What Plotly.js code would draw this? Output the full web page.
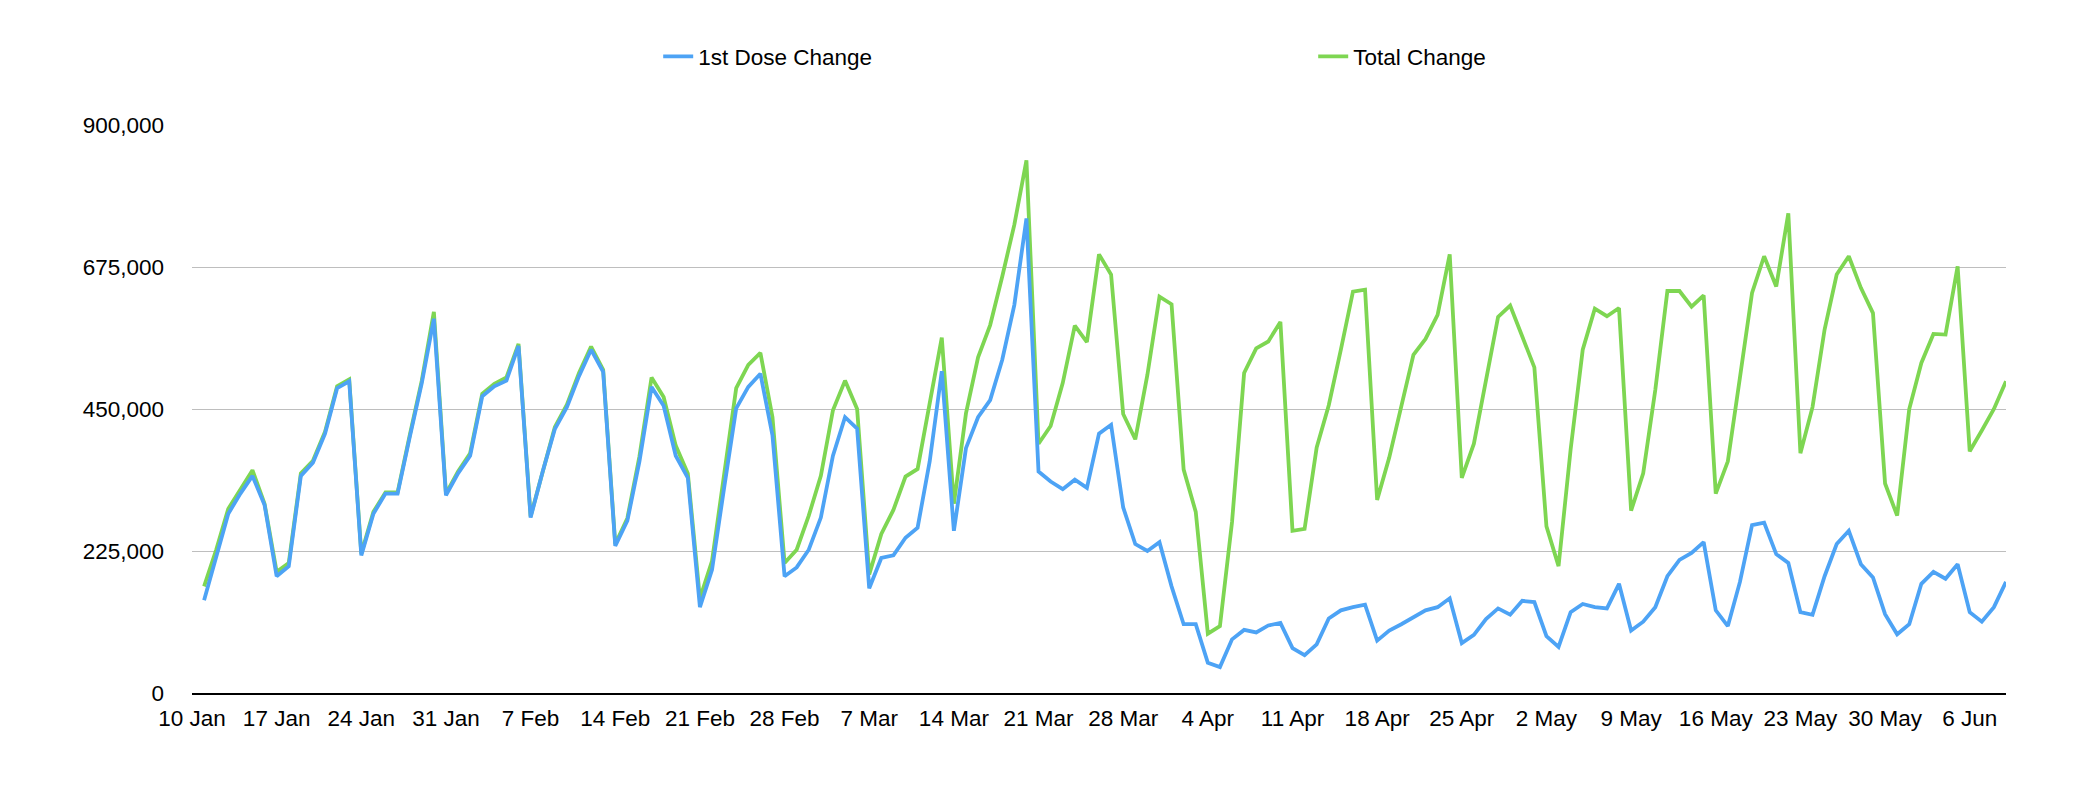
<!DOCTYPE html>
<html>
<head>
<meta charset="utf-8">
<script src="https://cdn.plot.ly/plotly-3.0.1.min.js"></script>
<style>
  html, body { margin: 0; padding: 0; background: #fff; }
  #vaccine_change_chart { width: 2073px; height: 794px; }
</style>
</head>
<body>
<div id="vaccine_change_chart"></div>
<script>
// daily change, 11 Jan 2021 to 9 Jun 2021
var START_DATE = '2021-01-11';

var first_dose_change = [
    147000, 214000, 284000, 316000, 344000, 298000, 185000, 201000, 344000, 365000,
    411000, 483000, 494000, 218000, 284000, 316000, 316000, 405000, 491000, 593000,
    313000, 348000, 376000, 470000, 486000, 495000, 550000, 278000, 351000, 418000,
    453000, 502000, 544000, 509000, 233000, 273000, 367000, 485000, 455000, 376000,
    341000, 136000, 195000, 325000, 451000, 485000, 506000, 408000, 185000, 199000,
    227000, 278000, 376000, 437000, 419000, 166000, 214000, 218000, 246000, 262000,
    367000, 510000, 257000, 388000, 437000, 464000, 528000, 615000, 752000, 351000,
    335000, 323000, 338000, 325000, 411000, 425000, 294000, 236000, 225000, 239000,
    169000, 109000, 109000, 48000, 41000, 85000, 100000, 96000, 107000, 111000,
    71000, 60000, 77000, 118000, 131000, 136000, 140000, 83000, 99000, 109000,
    120000, 131000, 136000, 150000, 79000, 92000, 117000, 134000, 124000, 146000,
    144000, 90000, 73000, 128000, 141000, 136000, 134000, 173000, 99000, 113000,
    136000, 185000, 211000, 222000, 239000, 131000, 106000, 176000, 266000, 270000,
    220000, 206000, 128000, 124000, 185000, 236000, 257000, 204000, 183000, 125000,
    93000, 109000, 173000, 192000, 181000, 204000, 128000, 113000, 136000, 176000
];

var total_change = [
    169000, 227000, 292000, 322000, 353000, 300000, 192000, 206000, 348000, 368000,
    414000, 486000, 497000, 221000, 287000, 318000, 318000, 408000, 495000, 604000,
    316000, 351000, 380000, 474000, 490000, 500000, 553000, 280000, 353000, 421000,
    457000, 507000, 549000, 512000, 236000, 277000, 375000, 500000, 469000, 392000,
    348000, 150000, 209000, 348000, 483000, 520000, 539000, 437000, 206000, 227000,
    281000, 344000, 448000, 495000, 450000, 188000, 252000, 290000, 343000, 355000,
    456000, 563000, 300000, 443000, 532000, 583000, 660000, 742000, 844000, 395000,
    423000, 491000, 582000, 556000, 695000, 663000, 442000, 402000, 504000, 628000,
    616000, 354000, 287000, 94000, 106000, 271000, 507000, 546000, 557000, 588000,
    257000, 260000, 389000, 456000, 544000, 636000, 639000, 306000, 373000, 455000,
    536000, 561000, 599000, 695000, 341000, 395000, 494000, 596000, 614000, 565000,
    516000, 264000, 201000, 386000, 544000, 609000, 597000, 610000, 289000, 348000,
    480000, 637000, 637000, 612000, 630000, 316000, 367000, 500000, 634000, 692000,
    644000, 760000, 380000, 453000, 576000, 663000, 692000, 642000, 602000, 332000,
    281000, 450000, 523000, 569000, 568000, 676000, 383000, 416000, 450000, 494000
];

var tick_dates = ['2021-01-10', '2021-01-17', '2021-01-24', '2021-01-31', '2021-02-07',
                  '2021-02-14', '2021-02-21', '2021-02-28', '2021-03-07', '2021-03-14',
                  '2021-03-21', '2021-03-28', '2021-04-04', '2021-04-11', '2021-04-18',
                  '2021-04-25', '2021-05-02', '2021-05-09', '2021-05-16', '2021-05-23',
                  '2021-05-30', '2021-06-06'];
var tick_labels = ['10 Jan', '17 Jan', '24 Jan', '31 Jan', '7 Feb', '14 Feb', '21 Feb',
                   '28 Feb', '7 Mar', '14 Mar', '21 Mar', '28 Mar', '4 Apr', '11 Apr',
                   '18 Apr', '25 Apr', '2 May', '9 May', '16 May', '23 May', '30 May', '6 Jun'];

var y_ticks = [0, 225000, 450000, 675000, 900000];

var CHART = document.getElementById('vaccine_change_chart');

function day_list(start, n)
{
    var out = [];
    var t0 = new Date(start + 'T00:00:00Z').getTime();
    for (var i = 0; i < n; i++) {
        out.push(new Date(t0 + i * 86400000).toISOString().slice(0, 10));
    }
    return out;
}

var dates = day_list(START_DATE, first_dose_change.length);

var trace1 = {  x: dates,
                y: first_dose_change,
                mode: 'lines',
                name: '1st Dose Change',
                line: {color: 'rgb(77, 163, 245)', width: 3.8}
             };

var trace2 = {  x: dates,
                y: total_change,
                mode: 'lines',
                name: 'Total Change',
                line: {color: 'rgb(126, 214, 82)', width: 3.8}
             };

// green is drawn first so blue sits on top, legend keeps blue first
var data = [trace2, trace1];

var font_family = '"Liberation Sans", Arial, Helvetica, sans-serif';
var FONT_SIZE = 22.5;

var layout = {width: 2073, height: 794,
              showlegend: true,
              legend: { orientation: 'h', x: 0.2570, xanchor: 'left', y: 1.12, yanchor: 'middle',
                        traceorder: 'reversed', entrywidth: 610, entrywidthmode: 'pixels',
                        font: {size: FONT_SIZE, color: '#000', family: font_family} },
              margin: { l: 192, r: 67, b: 101, t: 125, pad: 0 },
              paper_bgcolor: '#fff',
              plot_bgcolor: '#fff',
              font: {family: font_family, size: FONT_SIZE, color: '#000'},
              xaxis: { type: 'date',
                       range: ['2021-01-10', '2021-06-09'],
                       tickvals: tick_dates,
                       ticktext: tick_labels,
                       showgrid: false,
                       showline: true, linecolor: '#000', linewidth: 2,
                       ticks: '', ticklabelstandoff: 4,
                       tickfont: {size: FONT_SIZE, color: '#000'},
                       zeroline: false, fixedrange: true },
              yaxis: { range: [0, 900000],
                       tickvals: y_ticks,
                       tickformat: ',d',
                       showgrid: true, gridcolor: 'rgb(190, 190, 190)', gridwidth: 1,
                       zeroline: false, showline: false,
                       ticks: '', ticklabelstandoff: 27,
                       tickfont: {size: FONT_SIZE, color: '#000'},
                       fixedrange: true }
             };

var config = {'displayModeBar': false, 'responsive': false, 'staticPlot': true};

Plotly.newPlot(CHART, data, layout, config);
</script>
</body>
</html>
